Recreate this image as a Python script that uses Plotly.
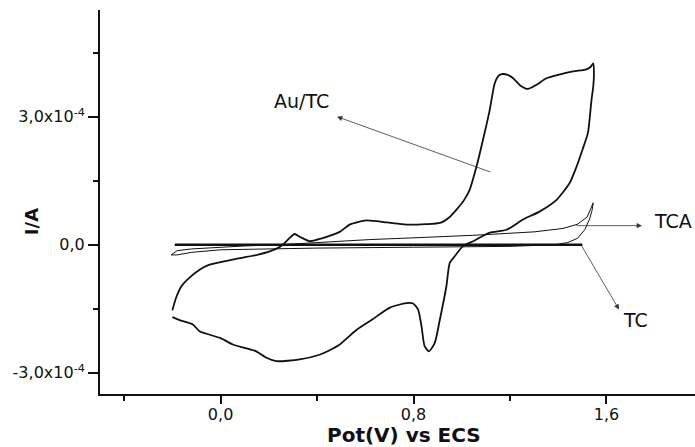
import plotly.graph_objects as go
import numpy as np

# ---- data (current in units of 1e-4 A) ----
autc_x = [-0.2, -0.185, -0.163, -0.13, -0.087, -0.046, 0.05, 0.16, 0.23, 0.258, 0.285, 0.307, 0.33, 0.37,
          0.42, 0.494, 0.535, 0.605, 0.69, 0.77, 0.85, 0.91, 0.95, 0.978, 1.01, 1.033, 1.061, 1.088, 1.116,
          1.137, 1.155, 1.171, 1.19, 1.213, 1.245, 1.274, 1.31, 1.351, 1.40, 1.462, 1.517, 1.535, 1.545,
          1.548, 1.545, 1.538, 1.523, 1.50, 1.476, 1.448, 1.393, 1.324, 1.254, 1.186, 1.116, 1.047, 1.004,
          0.971, 0.95, 0.936, 0.909, 0.888, 0.864, 0.846, 0.833, 0.819, 0.798, 0.77, 0.70, 0.63, 0.563,
          0.494, 0.45, 0.41, 0.328, 0.231, 0.19, 0.148, 0.1, 0.051, 0.0, -0.087, -0.115, -0.17, -0.2]
autc_y = [-1.54, -1.25, -0.98, -0.78, -0.59, -0.47, -0.35, -0.23, -0.1, 0.0, 0.15, 0.25, 0.18, 0.08,
          0.15, 0.3, 0.47, 0.57, 0.52, 0.47, 0.48, 0.51, 0.65, 0.82, 1.05, 1.29, 1.83, 2.46, 3.16,
          3.79, 3.97, 4.0, 3.98, 3.9, 3.72, 3.65, 3.75, 3.9, 3.98, 4.06, 4.11, 4.17, 4.25,
          4.0, 3.7, 3.4, 2.62, 2.22, 1.83, 1.45, 1.05, 0.78, 0.59, 0.35, 0.28, 0.08, -0.04,
          -0.27, -0.43, -0.98, -1.76, -2.3, -2.5, -2.38, -1.91, -1.52, -1.38, -1.37, -1.48, -1.75, -2.0,
          -2.34, -2.48, -2.58, -2.69, -2.73, -2.65, -2.5, -2.42, -2.34, -2.19, -2.03, -1.87, -1.77, -1.7]

tca_x = [-0.205, -0.18, -0.12, 0.0, 0.1, 0.25, 0.45, 0.62, 0.8, 1.05, 1.3, 1.42, 1.48, 1.52, 1.545,
         1.54, 1.53, 1.51, 1.48, 1.44, 1.39, 1.2, 0.8, 0.4, 0.0, -0.12, -0.18, -0.205]
tca_y = [-0.24, -0.14, -0.1, -0.06, -0.03, 0.0, 0.07, 0.12, 0.16, 0.22, 0.3, 0.38, 0.48, 0.65, 0.98,
         0.8, 0.6, 0.35, 0.15, 0.05, 0.0, -0.04, -0.06, -0.08, -0.12, -0.18, -0.24, -0.24]

tc_x = [-0.19, 0.2, 0.6, 1.0, 1.3, 1.5]
tc_y = [0.0, 0.0, 0.0, 0.0, 0.0, 0.0]

ytick_vals = [-3.0, 0.0, 3.0]
ytick_text = ["-3,0x10<sup>-4</sup>", "0,0", "3,0x10<sup>-4</sup>"]
yminor_vals = [-1.5, 1.5, 4.5]
xtick_vals = [0.0, 0.8, 1.6]
xtick_text = ["0,0", "0,8", "1,6"]
xminor_vals = [-0.4, 0.4, 1.2]

SCALE = 1e-4
FONT = "DejaVu Sans"
INK = "#111111"

fig = go.Figure()
fig.add_trace(go.Scatter(x=tca_x, y=np.array(tca_y) * SCALE, mode="lines",
                         line=dict(color=INK, width=1), name="TCA"))
fig.add_trace(go.Scatter(x=tc_x, y=np.array(tc_y) * SCALE, mode="lines",
                         line=dict(color=INK, width=2.5), name="TC"))
fig.add_trace(go.Scatter(x=autc_x, y=np.array(autc_y) * SCALE, mode="lines",
                         line=dict(color=INK, width=1.8, shape="spline", smoothing=0.6), name="Au/TC"))

axis_common = dict(showline=True, linecolor=INK, linewidth=2, showgrid=False, zeroline=False,
                   ticks="outside", tickcolor=INK, tickwidth=1.5, mirror=False,
                   tickfont=dict(family=FONT, size=16, color=INK), tickmode="array")

fig.update_xaxes(range=[-0.5, 1.967], tickvals=xtick_vals, ticktext=xtick_text, ticklen=8,
                 ticklabelstandoff=-3,
                 minor=dict(tickmode="array", tickvals=xminor_vals, ticks="outside", ticklen=5,
                            tickcolor=INK, tickwidth=1.5),
                 **axis_common)
fig.update_yaxes(range=[-3.5e-4, 5.5e-4], tickvals=[v * SCALE for v in ytick_vals], ticktext=ytick_text,
                 ticklen=10,
                 minor=dict(tickmode="array", tickvals=[v * SCALE for v in yminor_vals], ticks="outside",
                            ticklen=5, tickcolor=INK, tickwidth=1.5),
                 **axis_common)

ann = []
# arrows
arrow_style = dict(showarrow=True, arrowhead=2, arrowsize=1.3, arrowwidth=0.8, arrowcolor="#333333",
                   axref="x", ayref="y", xref="x", yref="y", text="", standoff=0, startstandoff=0)
ann.append(dict(x=0.483, y=3.0e-4, ax=1.125, ay=1.69e-4, **arrow_style))
ann.append(dict(x=1.747, y=0.445e-4, ax=1.469, ay=0.445e-4, **arrow_style))
ann.append(dict(x=1.652, y=-1.52e-4, ax=1.494, ay=0.0, **arrow_style))
# labels
lab_font = dict(family=FONT, size=19, color=INK)
ann.append(dict(x=0.337, y=3.37e-4, xref="x", yref="y", text="Au/TC", showarrow=False, font=lab_font))
ann.append(dict(x=1.789, y=0.56e-4, xref="x", yref="y", text="TCA", showarrow=False, font=lab_font,
                xanchor="left"))
ann.append(dict(x=1.722, y=-1.76e-4, xref="x", yref="y", text="TC", showarrow=False, font=lab_font))
# axis titles
ann.append(dict(x=0.511, y=-0.108, xref="paper", yref="paper", text="<b>Pot(V) vs ECS</b>",
                showarrow=False, font=dict(family=FONT, size=20, color=INK), yanchor="middle"))
ann.append(dict(x=-0.135, y=0.448, xref="paper", yref="paper", text="<b>I/A</b>", textangle=-90,
                showarrow=False, font=dict(family=FONT, size=18, color=INK)))

fig.update_layout(width=695, height=447, margin=dict(l=100, r=0, t=10, b=53),
                  paper_bgcolor="white", plot_bgcolor="white", showlegend=False,
                  annotations=ann)

fig.write_html("out.html", config={"displayModeBar": False},
               post_script="document.body.style.margin='0';")
